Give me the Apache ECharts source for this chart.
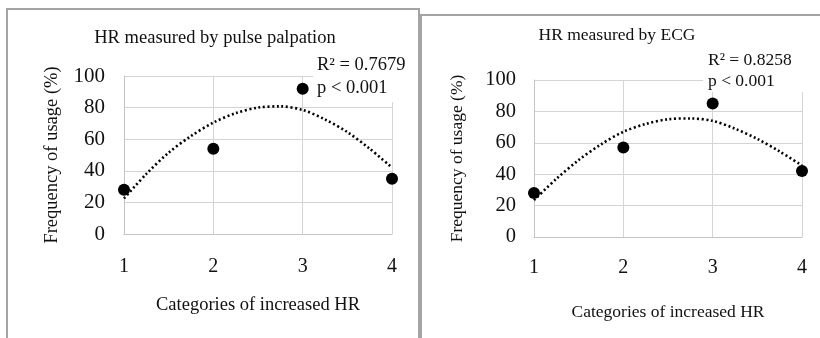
<!DOCTYPE html>
<html>
<head>
<meta charset="utf-8">
<script src="https://cdn.jsdelivr.net/npm/echarts@6/dist/echarts.min.js"></script>
<style>
html,body{margin:0;padding:0;background:#fff;}
#chart{width:820px;height:338px;}
</style>
</head>
<body>
<div id="chart"></div>
<script>
// ---- data ----
const categories = [1, 2, 3, 4];
const pulseValues = [28, 54, 92, 35];
const ecgValues = [28, 57, 85, 42];
const trendX = [1, 1.25, 1.5, 1.75, 2, 2.25, 2.5, 2.75, 3, 3.25, 3.5, 3.75, 4];
const pulseTrend = [22.5, 38, 51.5, 62, 70.5, 76.5, 80, 80.8, 78.5, 72.5, 64.5, 54, 42];
const ecgTrend = [23.5, 37, 49, 59, 67, 72, 75, 75.5, 74, 69, 62.5, 54.5, 45.5];
const yTicks = [0, 20, 40, 60, 80, 100];
const panelTitles = ['HR measured by pulse palpation', 'HR measured by ECG'];
const statsPulse = ['R\u00B2 = 0.7679', 'p < 0.001'];
const statsEcg = ['R\u00B2 = 0.8258', 'p < 0.001'];
const xAxisName = 'Categories of increased HR';
const yAxisName = 'Frequency of usage (%)';

const FONT = '"Liberation Serif", "Times New Roman", serif';
const TXT = '#111';

const chart = echarts.init(document.getElementById('chart'), null, {renderer: 'canvas'});

function xAxisCfg(gridIndex, fs, margin, nameGap, nameFs) {
  return {
    type: 'value', gridIndex, min: categories[0], max: categories[categories.length - 1], interval: 1,
    name: xAxisName, nameLocation: 'middle', nameGap,
    nameTextStyle: {fontFamily: FONT, fontSize: nameFs, color: TXT},
    axisLine: {show: true, lineStyle: {color: '#c4c4c4', width: 1}},
    axisTick: {show: false},
    axisLabel: {fontFamily: FONT, fontSize: fs, color: TXT, margin},
    splitLine: {show: true, lineStyle: {color: '#d4d4d4', width: 1}}
  };
}
function yAxisCfg(gridIndex, fs, margin, nameGap, nameFs) {
  return {
    type: 'value', gridIndex, min: yTicks[0], max: yTicks[yTicks.length - 1], interval: yTicks[1] - yTicks[0],
    name: yAxisName, nameLocation: 'middle', nameGap, nameRotate: 90,
    nameTextStyle: {fontFamily: FONT, fontSize: nameFs, color: TXT},
    axisLine: {show: true, lineStyle: {color: '#c4c4c4', width: 1}},
    axisTick: {show: false},
    axisLabel: {fontFamily: FONT, fontSize: fs, color: TXT, margin},
    splitLine: {show: true, lineStyle: {color: '#d4d4d4', width: 1}}
  };
}

function pts(xs, ys) { return xs.map((x, i) => [x, ys[i]]); }

const option = {
  animation: false,
  backgroundColor: '#fff',
  grid: [
    {left: 124, top: 76, width: 268, height: 158},
    {left: 534, top: 80, width: 268, height: 157}
  ],
  xAxis: [xAxisCfg(0, 20, 23, 62, 18.5), xAxisCfg(1, 20, 21, 66, 17.5)],
  yAxis: [yAxisCfg(0, 21, 19, 62, 18.5), yAxisCfg(1, 20.5, 18, 68, 17.5)],
  series: [
    {type: 'line', xAxisIndex: 0, yAxisIndex: 0, data: pts(trendX, pulseTrend), smooth: 0.3,
     showSymbol: false, lineStyle: {color: '#000', width: 2.6, type: [2, 2.6]}, z: 2},
    {type: 'scatter', xAxisIndex: 0, yAxisIndex: 0, data: pts(categories, pulseValues),
     symbolSize: 12, itemStyle: {color: '#000', opacity: 1}, z: 3},
    {type: 'line', xAxisIndex: 1, yAxisIndex: 1, data: pts(trendX, ecgTrend), smooth: 0.3,
     showSymbol: false, lineStyle: {color: '#000', width: 2.6, type: [2, 2.6]}, z: 2},
    {type: 'scatter', xAxisIndex: 1, yAxisIndex: 1, data: pts(categories, ecgValues),
     symbolSize: 12, itemStyle: {color: '#000', opacity: 1}, z: 3}
  ],
  graphic: [
    {type: 'rect', shape: {x: 7, y: 9, width: 412, height: 400}, style: {fill: null, stroke: '#a4a4a4', lineWidth: 2}, z: 0, silent: true},
    {type: 'rect', shape: {x: 421, y: 15, width: 420, height: 400}, style: {fill: null, stroke: '#a4a4a4', lineWidth: 2}, z: 0, silent: true},
    {type: 'text', x: 215, y: 38, style: {text: panelTitles[0], font: '18.5px ' + FONT, fill: TXT, textAlign: 'center', textVerticalAlign: 'middle'}, z: 50},
    {type: 'text', x: 617, y: 35, style: {text: panelTitles[1], font: '17.5px ' + FONT, fill: TXT, textAlign: 'center', textVerticalAlign: 'middle'}, z: 50},
    {type: 'rect', shape: {x: 313, y: 50, width: 105, height: 52}, style: {fill: '#fff'}, z: 40, silent: true},
    {type: 'rect', shape: {x: 703, y: 46, width: 116, height: 46}, style: {fill: '#fff'}, z: 40, silent: true},
    {type: 'text', x: 317, y: 65, style: {text: statsPulse[0], font: '18.5px ' + FONT, fill: TXT, textAlign: 'left', textVerticalAlign: 'middle'}, z: 50},
    {type: 'text', x: 317, y: 88, style: {text: statsPulse[1], font: '18.5px ' + FONT, fill: TXT, textAlign: 'left', textVerticalAlign: 'middle'}, z: 50},
    {type: 'text', x: 708, y: 60, style: {text: statsEcg[0], font: '17.5px ' + FONT, fill: TXT, textAlign: 'left', textVerticalAlign: 'middle'}, z: 50},
    {type: 'text', x: 708, y: 81, style: {text: statsEcg[1], font: '17.5px ' + FONT, fill: TXT, textAlign: 'left', textVerticalAlign: 'middle'}, z: 50}
  ]
};
chart.setOption(option);
</script>
</body>
</html>
